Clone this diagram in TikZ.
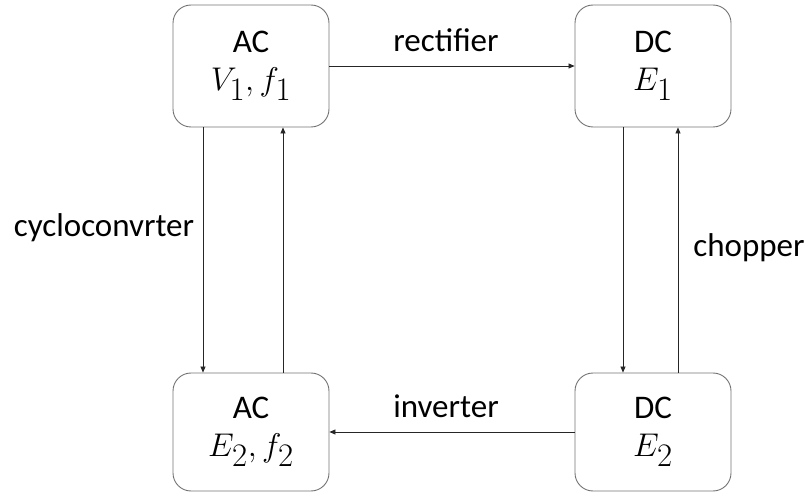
\documentclass[tikz,border=0pt]{standalone}
\usepackage{fontspec}
\usepackage{graphicx}
\setmainfont{Carlito}
\usetikzlibrary{arrows.meta}
\newcommand{\boxmath}[1]{\scalebox{1.32}{$#1$}}
\begin{document}
\begin{tikzpicture}[x=1pt,y=-1pt,
  box/.style={draw=black!55, line width=0.9pt, rounded corners=18pt, minimum width=156pt, minimum height=122pt, align=center, font=\fontsize{33}{38}\selectfont, inner sep=0pt},
  conn/.style={draw=black!85, line width=0.7pt, -{Triangle[length=6pt,width=5pt]}},
  lbl/.style={font=\fontsize{33}{36}\selectfont, inner sep=0pt, anchor=base}]
\useasboundingbox (0,0) rectangle (807,492);
\node[box] (tl) at (251,66) {AC\\\boxmath{V_1, f_1}};
\node[box] (tr) at (653,66) {DC\\\boxmath{E_1}};
\node[box, minimum height=118pt] (bl) at (251,432) {AC\\\boxmath{E_2, f_2}};
\node[box, minimum height=118pt] (br) at (653,432) {DC\\\boxmath{E_2}};
\coordinate (xa) at (203,0);
\coordinate (xb) at (283,0);
\coordinate (xc) at (623,0);
\coordinate (xd) at (678,0);
\draw[conn] (tl) -- (tr);
\draw[conn] (br) -- (bl);
\draw[conn] (tl.south -| xa) -- (bl.north -| xa);
\draw[conn] (bl.north -| xb) -- (tl.south -| xb);
\draw[conn] (tr.south -| xc) -- (br.north -| xc);
\draw[conn] (br.north -| xd) -- (tr.south -| xd);
\node[lbl] (rect) at (446,52) {rectifier};
\node[lbl] (inv) at (446,417) {inverter};
\node[lbl] (cyc) at (104,237) {cycloconvrter};
\node[lbl] (chop) at (749,257) {chopper};
\end{tikzpicture}
\end{document}
